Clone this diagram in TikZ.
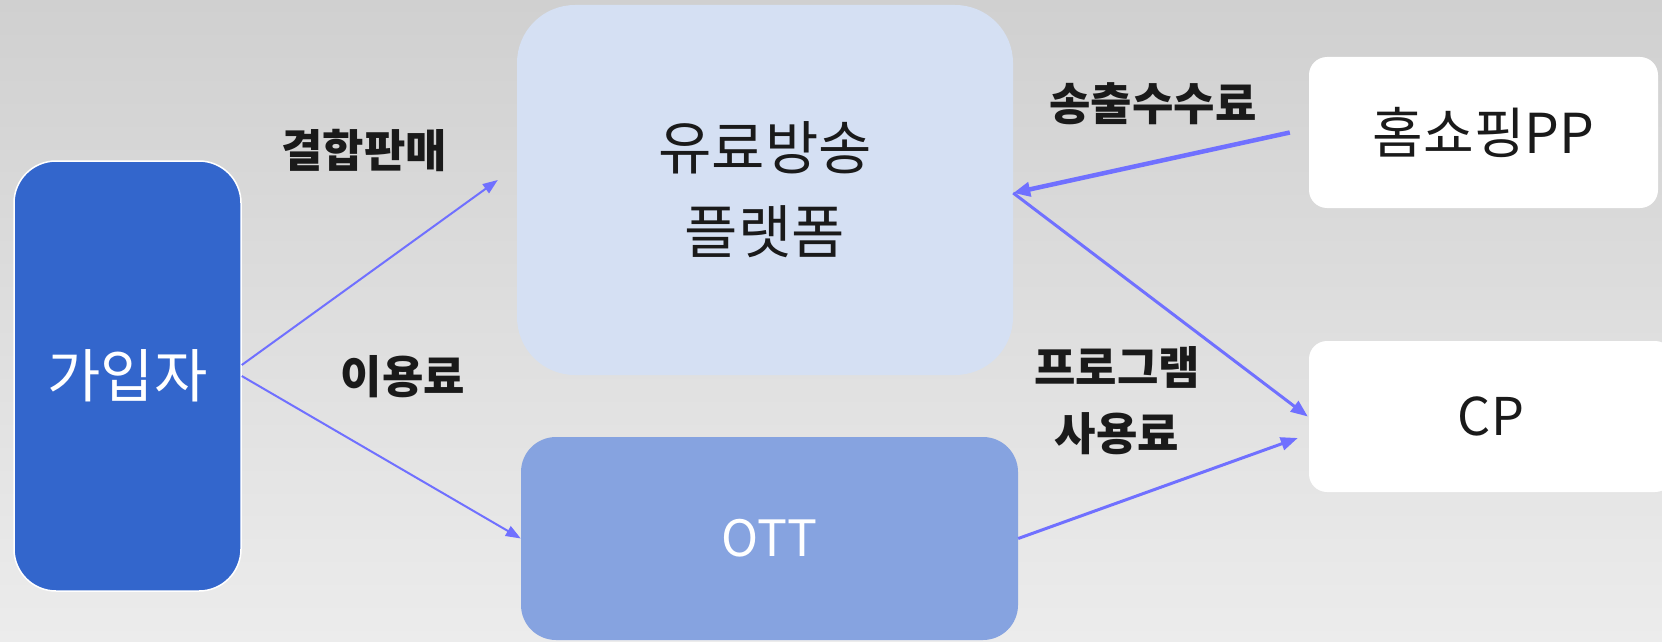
\documentclass[tikz,border=0pt]{standalone}
\usepackage{fontspec}
\setmainfont{Noto Sans CJK KR}
\usetikzlibrary{arrows.meta}
\definecolor{bgtop}{RGB}{208,208,208}
\definecolor{bgbot}{RGB}{236,236,236}
\definecolor{subfill}{RGB}{51,102,204}
\definecolor{platfill}{RGB}{213,224,243}
\definecolor{ottfill}{RGB}{134,163,224}
\definecolor{arrcol}{RGB}{112,112,255}
\definecolor{txt}{RGB}{26,26,26}
\tikzset{
  box/.style={rectangle, inner sep=0pt, align=center},
  lbl/.style={font=\fontsize{45}{66}\selectfont\bfseries, text=txt, align=center, inner sep=0pt},
  arr/.style={draw=arrcol, line width=2pt, -{Triangle[length=15pt,width=11pt]}},
}
\begin{document}
\begin{tikzpicture}[x=1pt,y=-1pt]
\useasboundingbox (0,0) rectangle (1662,642);
\clip (0,0) rectangle (1662,642);
\shade[top color=bgtop, bottom color=bgbot] (0,0) rectangle (1662,642);

\node[box, fill=subfill, draw=white, line width=1.5pt, rounded corners=42pt,
  minimum width=227pt, minimum height=430pt, text=white,
  font=\fontsize{58}{60}\selectfont] (sub) at (127.5,376) {가입자};
\node[box, fill=platfill, rounded corners=58pt, minimum width=496pt, minimum height=370pt,
  text=txt, font=\fontsize{58}{84}\selectfont] (plat) at (765,190) {유료방송\\플랫폼};
\node[box, fill=ottfill, rounded corners=35pt, minimum width=497pt, minimum height=203pt,
  text=white, font=\fontsize{50}{60}\selectfont] (ott) at (769.5,538.5) {OTT};
\node[box, fill=white, rounded corners=18pt, minimum width=349pt, minimum height=151pt,
  text=txt, font=\fontsize{55}{60}\selectfont] (pp) at (1483.5,132.5) {홈쇼핑PP};
\node[box, fill=white, rounded corners=18pt, minimum width=364pt, minimum height=151pt,
  text=txt, font=\fontsize{52}{60}\selectfont] (cp) at (1491,416.5) {CP};

\node[lbl] (l1) at (364,150) {결합판매};
\node[lbl] (l2) at (403,377) {이용료};
\node[lbl] (l3) at (1153,104) {송출수수료};
\node[lbl] (l4) at (1117,401) {프로그램\\사용료};

\draw[arr] ([yshift=11pt]sub.east) -- ([xshift=-19pt,yshift=10pt]plat.west);
\draw[arr] (sub.east) -- (ott.west);
\draw[arr, line width=4.5pt, -{Triangle[length=17pt,width=14pt]}] ([xshift=-19pt]pp.west) -- ([yshift=-3pt]plat.east);
\draw[arr, line width=3pt, -{Triangle[length=17pt,width=13pt]}] ([yshift=-3pt]plat.east) -- ([xshift=-1pt]cp.west);
\draw[arr, line width=3pt, -{Triangle[length=17pt,width=13pt]}] (ott.east) -- ([xshift=-11pt,yshift=-21.5pt]cp.west);
\end{tikzpicture}
\end{document}
